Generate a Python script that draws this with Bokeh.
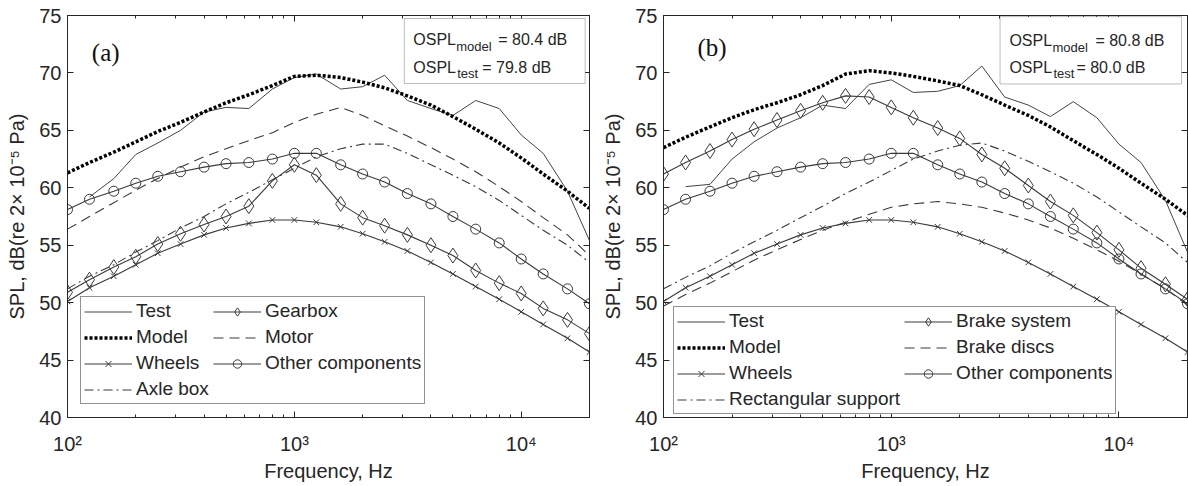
import math
from bokeh.plotting import figure
from bokeh.models import (Legend, LegendItem, Label, BoxAnnotation, FixedTicker,
                          LogAxis, LinearAxis, Range1d)
from bokeh.layouts import row
from bokeh.embed import file_html
from bokeh.resources import INLINE

NaN = float("nan")

# one-third octave band centre frequencies (Hz)
freq_hz = [100, 125, 160, 200, 250, 315, 400, 500, 630, 800, 1000, 1250, 1600,
           2000, 2500, 3150, 4000, 5000, 6300, 8000, 10000, 12500, 16000, 20000]

# ---- panel (a) ----
test_a = [NaN, 59.2, 60.8, 62.9, 63.9, 65.0, 66.6, 67.0, 66.9, 68.6, 69.6, 69.9,
          68.6, 68.8, 69.8, 67.6, 66.9, 66.3, 67.6, 66.9, 64.6, 63.0, 59.7, 55.4]
model_a = [61.3, 62.2, 63.1, 64.0, 64.9, 65.7, 66.6, 67.4, 68.1, 68.9, 69.7, 69.8,
           69.6, 69.2, 68.7, 68.0, 67.2, 66.2, 65.1, 63.9, 62.6, 61.2, 59.7, 58.2]
wheels = [50.1, 51.3, 52.3, 53.3, 54.3, 55.1, 55.9, 56.5, 56.9, 57.2, 57.2, 57.0,
          56.6, 56.0, 55.3, 54.5, 53.5, 52.5, 51.4, 50.3, 49.2, 48.1, 46.9, 45.7]
gearbox = [50.9, 52.0, 53.1, 54.0, 55.1, 56.0, 56.8, 57.5, 58.4, 60.6, 62.0, 61.1,
           58.6, 57.4, 56.7, 55.9, 55.0, 54.1, 52.8, 51.7, 50.8, 49.5, 48.5, 47.3]
motor = [56.4, 57.5, 58.7, 59.8, 60.8, 61.8, 62.7, 63.4, 64.1, 64.8, 65.7, 66.4,
         67.0, 66.3, 65.4, 64.5, 63.5, 62.5, 61.4, 60.1, 58.8, 57.4, 55.9, 54.1]
axle_box = [51.2, 52.3, 53.3, 54.4, 55.4, 56.5, 57.5, 58.6, 59.6, 60.7, 61.7, 62.7,
            63.4, 63.8, 63.8, 63.0, 62.0, 61.1, 60.1, 58.9, 57.6, 56.3, 55.0, 53.5]
other_components = [58.1, 59.0, 59.7, 60.4, 61.0, 61.4, 61.8, 62.1, 62.2, 62.5, 63.0, 63.0,
                    62.0, 61.2, 60.5, 59.5, 58.6, 57.5, 56.4, 55.2, 53.8, 52.5, 51.2, 49.9]

# ---- panel (b) ----
test_b = [NaN, 60.1, 60.3, 62.5, 64.0, 65.2, 66.1, 67.2, 66.9, 69.0, 69.4, 68.3,
          68.4, 68.9, 70.6, 67.9, 67.2, 66.2, 67.5, 66.1, 63.8, 62.2, 58.9, 54.4]
model_b = [63.5, 64.4, 65.3, 66.1, 66.8, 67.4, 68.1, 68.9, 69.9, 70.2, 70.0, 69.7,
           69.3, 68.9, 68.1, 67.2, 66.3, 65.3, 64.1, 62.9, 61.7, 60.4, 59.0, 57.6]
brake_system = [61.2, 62.2, 63.2, 64.2, 65.1, 65.9, 66.7, 67.4, 68.0, 67.9, 67.0, 66.1,
                65.2, 64.3, 62.9, 61.7, 60.2, 58.8, 57.6, 56.1, 54.6, 53.0, 51.6, 50.3]
brake_discs = [49.7, 50.7, 51.7, 52.7, 53.7, 54.6, 55.5, 56.3, 57.0, 57.7, 58.3, 58.6,
               58.8, 58.6, 58.3, 57.8, 57.2, 56.5, 55.6, 54.6, 53.6, 52.5, 51.2, 49.8]
rect_support = [51.2, 52.2, 53.2, 54.3, 55.3, 56.3, 57.4, 58.4, 59.5, 60.5, 61.5, 62.5,
                63.2, 63.7, 63.9, 63.2, 62.3, 61.4, 60.4, 59.2, 57.9, 56.6, 55.2, 53.5]

# ---- ticks / texts ----
x_ticks = [100, 1000, 10000]
x_tick_labels = ["10²", "10³", "10⁴"]
x_minor = [200, 300, 400, 500, 600, 700, 800, 900,
           2000, 3000, 4000, 5000, 6000, 7000, 8000, 9000, 20000]
y_ticks = [40, 45, 50, 55, 60, 65, 70, 75]
ospl_a = ("80.4", "79.8")
ospl_b = ("80.8", "80.0")

FONT = "Liberation Sans"
AX = "#262626"
LINE = "#3a3a3a"


def base_figure(width, border_left, border_right, panel_tag, tag_x, tag_y):
    p = figure(width=width, height=486, x_axis_type="log",
               x_range=Range1d(100, 20000), y_range=Range1d(40, 75),
               output_backend="svg", toolbar_location=None,
               min_border_left=border_left, min_border_right=border_right,
               min_border_top=15, min_border_bottom=69,
               background_fill_color="white", border_fill_color="white",
               outline_line_color=AX, outline_line_width=1)
    p.grid.visible = False
    xt = FixedTicker(ticks=x_ticks, minor_ticks=x_minor)
    yt = FixedTicker(ticks=y_ticks, minor_ticks=[])

    xa = p.below[0]
    xa.ticker = xt
    xa.major_label_overrides = dict(zip(x_ticks, x_tick_labels))
    xa.axis_label = "Frequency, Hz"
    ya = p.left[0]
    ya.ticker = yt
    ya.axis_label = "SPL, dB(re 2× 10⁻⁵ Pa)"
    for ax in (xa, ya):
        ax.axis_line_color = AX
        ax.major_tick_line_color = AX
        ax.minor_tick_line_color = AX
        ax.major_tick_in = 6
        ax.major_tick_out = 0
        ax.minor_tick_in = 3
        ax.minor_tick_out = 0
        ax.major_label_text_font = FONT
        ax.major_label_text_font_size = "20px"
        ax.major_label_text_color = AX
        ax.axis_label_text_font = FONT
        ax.axis_label_text_font_size = "20px"
        ax.axis_label_text_font_style = "normal"
        ax.axis_label_text_color = AX
    xa.major_label_standoff = 15
    xa.axis_label_standoff = 2
    ya.major_label_standoff = 6
    ya.axis_label_standoff = 8

    top = LogAxis(ticker=xt)
    right = LinearAxis(ticker=yt)
    for ax in (top, right):
        ax.major_label_text_font_size = "2px"
        ax.major_label_text_alpha = 0.0
        ax.major_label_standoff = 0
        ax.axis_line_color = AX
        ax.major_tick_line_color = AX
        ax.minor_tick_line_color = AX
        ax.major_tick_in = 6
        ax.major_tick_out = 0
        ax.minor_tick_in = 3
        ax.minor_tick_out = 0
    p.add_layout(top, "above")
    p.add_layout(right, "right")

    p.add_layout(Label(x=tag_x, y=tag_y, text=panel_tag, text_font="Liberation Serif",
                       text_font_size="25px", text_color="#111111",
                       text_baseline="middle", text_align="left"))
    return p


def series(p, y, dash="solid", width=1.1, color=LINE, marker=None, msize=None):
    rs = [p.line(freq_hz, y, line_color=color, line_width=width, line_dash=dash)]
    if marker:
        rs.append(p.scatter(freq_hz, y, marker=marker, size=msize, line_color=color,
                            fill_color=None, line_width=1))
    return rs


def ospl_box(p, left, right, bottom, top, tx, ty, vals, off_eq_model, off_eq_test, dy2):
    p.add_layout(BoxAnnotation(left=left, right=right, bottom=bottom, top=top,
                               fill_color="white", fill_alpha=1.0,
                               line_color=AX, line_width=1))

    def lab(text, dx, dy, size):
        p.add_layout(Label(x=tx, y=ty, x_offset=dx, y_offset=dy, text=text,
                           text_font=FONT, text_font_size=size, text_color=AX,
                           text_baseline="alphabetic", text_align="left"))
    lab("OSPL", 0, 0, "16px")
    lab("model", 43, -7, "13px")
    lab("= %s dB" % vals[0], off_eq_model, 0, "16px")
    lab("OSPL", 0, -dy2, "16px")
    lab("test", 44, -dy2 - 6, "13px")
    lab("= %s dB" % vals[1], off_eq_test, -dy2, "16px")


def add_legend(p, items, loc):
    leg = Legend(items=items, location=loc, orientation="vertical", nrows=4,
                 label_text_font=FONT, label_text_font_size="19px", label_text_color=AX,
                 glyph_width=48, glyph_height=21, label_height=21, label_standoff=4,
                 spacing=4, padding=3, margin=0,
                 border_line_color=AX, border_line_width=1,
                 background_fill_color="white", background_fill_alpha=1.0)
    p.add_layout(leg)


# ================= panel (a) =================
pa = base_figure(595, 67, 6, "(a)", 128, 71.8)
r_axle = series(pa, axle_box, dash="9 4 2 4")
r_motor = series(pa, motor, dash="10 6")
r_other = series(pa, other_components, marker="circle", msize=10)
r_gear = series(pa, gearbox, marker="diamond", msize=15)
r_wheels = series(pa, wheels, marker="x", msize=8)
r_test = series(pa, test_a, color="#444444", width=1.0)
r_model = series(pa, model_a, dash="3 2", width=3.5, color="#000000")
ospl_box(pa, 3052, 19140, 69.08, 74.74, 3343, 72.89, ospl_a, 85, 69, 27.4)
add_legend(pa, [
    LegendItem(label="Test", renderers=r_test),
    LegendItem(label="Model", renderers=r_model),
    LegendItem(label="Wheels", renderers=r_wheels),
    LegendItem(label="Axle box", renderers=r_axle),
    LegendItem(label="Gearbox", renderers=r_gear),
    LegendItem(label="Motor", renderers=r_motor),
    LegendItem(label="Other components", renderers=r_other),
], (13, 13))

# ================= panel (b) =================
pb = base_figure(593, 68, 1, "(b)", 141, 72.2)
s_rect = series(pb, rect_support, dash="9 4 2 4")
s_disc = series(pb, brake_discs, dash="10 6")
s_other = series(pb, other_components, marker="circle", msize=10)
s_brake = series(pb, brake_system, marker="diamond", msize=15)
s_wheels = series(pb, wheels, marker="x", msize=8)
s_test = series(pb, test_b, color="#444444", width=1.0)
s_model = series(pb, model_b, dash="3 2", width=3.5, color="#000000")
ospl_box(pb, 3006, 18830, 69.04, 74.9, 3303, 72.82, ospl_b, 86, 67, 26.7)
add_legend(pb, [
    LegendItem(label="Test", renderers=s_test),
    LegendItem(label="Model", renderers=s_model),
    LegendItem(label="Wheels", renderers=s_wheels),
    LegendItem(label="Rectangular support", renderers=s_rect),
    LegendItem(label="Brake system", renderers=s_brake),
    LegendItem(label="Brake discs", renderers=s_disc),
    LegendItem(label="Other components", renderers=s_other),
], (10, 3))

layout = row(pa, pb)
open("out.html", "w").write(file_html(layout, INLINE))
